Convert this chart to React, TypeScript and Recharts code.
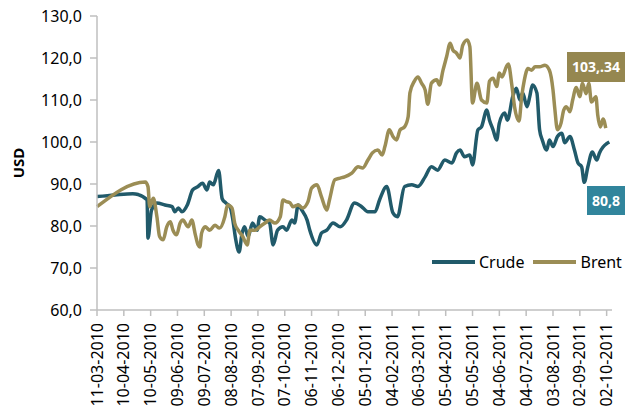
import { Line, LineChart, XAxis, YAxis } from 'recharts';

// days counted from 11-03-2010
const crudeDays = [0, 20, 40, 46, 56, 57, 61, 67, 76, 84, 87, 91, 95, 101, 107, 113, 118, 123, 126, 130, 136, 140, 144, 149, 152, 155, 159, 162, 165, 169, 174, 179, 182, 188, 193, 197, 202, 208, 212, 218, 221, 225, 229, 235, 238, 246, 251, 257, 264, 272, 279, 288, 296, 303, 311, 316, 324, 331, 336, 344, 352, 359, 367, 374, 381, 389, 397, 402, 406, 411, 417, 420, 426, 430, 436, 439, 443, 447, 450, 456, 459, 465, 469, 473, 476, 481, 484, 487, 492, 495, 498, 503, 506, 510, 515, 520, 523, 529, 534, 538, 542, 545, 549, 554, 559, 562, 566, 570, 573];
const crudeUsd = [87.0, 87.4, 87.7, 87.5, 86.2, 77.1, 83.8, 85.5, 85.0, 84.6, 83.4, 84.3, 83.4, 85.0, 88.6, 89.4, 90.2, 88.6, 90.5, 89.8, 93.2, 86.5, 85.5, 84.5, 81.4, 77.0, 73.8, 78.0, 79.8, 77.5, 80.7, 79.0, 82.2, 81.4, 80.7, 75.5, 79.0, 79.8, 79.0, 81.4, 80.7, 85.0, 83.8, 81.4, 79.0, 75.5, 78.3, 79.0, 80.7, 79.8, 81.4, 85.5, 84.6, 83.4, 83.4, 86.2, 89.4, 83.1, 82.2, 89.4, 89.8, 89.4, 91.7, 94.1, 93.3, 95.7, 95.0, 97.4, 98.1, 96.5, 96.9, 94.5, 102.9, 103.6, 107.6, 105.2, 102.9, 100.5, 104.5, 106.9, 105.2, 110.8, 112.8, 110.0, 111.7, 108.4, 110.8, 113.6, 111.7, 102.9, 100.5, 98.1, 100.5, 98.9, 101.3, 102.1, 99.8, 101.3, 98.1, 95.0, 94.1, 90.4, 94.1, 97.6, 95.7, 97.4, 98.8, 99.6, 100.0];

const brentDays = [0, 54, 57, 59, 63, 67, 70, 74, 78, 82, 85, 89, 93, 96, 102, 106, 110, 113, 115, 117, 121, 126, 132, 137, 143, 146, 151, 154, 158, 163, 168, 171, 177, 182, 188, 193, 199, 205, 208, 212, 216, 219, 225, 230, 236, 240, 246, 251, 257, 260, 266, 272, 277, 285, 292, 297, 303, 308, 314, 319, 322, 327, 331, 335, 339, 344, 348, 350, 355, 359, 363, 367, 370, 374, 380, 383, 387, 391, 395, 398, 402, 406, 409, 414, 417, 420, 425, 430, 436, 439, 443, 447, 450, 453, 458, 460, 464, 467, 472, 475, 478, 482, 486, 490, 495, 501, 506, 510, 512, 515, 519, 522, 525, 529, 532, 536, 540, 543, 547, 550, 553, 558, 560, 563, 566, 569];
const brentUsd = [84.6, 90.5, 89.4, 84.6, 86.6, 82.2, 77.5, 76.7, 79.8, 81.0, 79.0, 77.9, 80.7, 81.4, 79.8, 81.4, 77.9, 75.5, 75.0, 78.3, 79.8, 79.0, 80.2, 79.5, 82.2, 85.0, 84.3, 80.7, 79.0, 77.5, 75.5, 79.0, 79.0, 79.8, 80.7, 81.4, 80.7, 82.2, 86.2, 85.8, 85.5, 84.6, 85.0, 84.3, 85.8, 89.0, 89.8, 87.0, 83.8, 86.2, 91.0, 91.4, 91.7, 92.6, 94.1, 93.8, 95.7, 97.4, 98.1, 96.9, 98.9, 102.9, 101.3, 100.5, 102.9, 103.6, 106.0, 111.7, 114.5, 115.5, 114.0, 112.4, 109.0, 114.0, 114.8, 113.6, 117.1, 120.3, 123.5, 121.9, 121.2, 120.0, 123.0, 124.3, 122.7, 109.3, 114.0, 110.0, 109.3, 114.5, 115.2, 113.2, 116.4, 115.5, 118.0, 118.6, 113.5, 108.4, 105.0, 110.8, 114.8, 117.5, 117.1, 117.9, 117.9, 118.3, 117.1, 112.4, 108.0, 102.9, 104.5, 107.6, 108.4, 107.2, 110.0, 113.0, 110.8, 114.0, 111.5, 114.0, 109.5, 110.8, 106.5, 103.6, 105.5, 103.3];

const tickDays = [0, 30, 60, 90, 120, 150, 180, 210, 240, 270, 300, 330, 360, 390, 420, 450, 480, 510, 540, 570];
const tickLabels = ['11-03-2010', '10-04-2010', '10-05-2010', '09-06-2010', '09-07-2010', '08-08-2010', '07-09-2010', '07-10-2010', '06-11-2010', '06-12-2010', '05-01-2011', '04-02-2011', '06-03-2011', '05-04-2011', '05-05-2011', '04-06-2011', '04-07-2011', '03-08-2011', '02-09-2011', '02-10-2011'];
const yTicks = [60, 70, 80, 90, 100, 110, 120, 130];

const CRUDE = '#215a6a';
const BRENT = '#9b8d55';
const FONT = '"Noto Sans", sans-serif';

const crudeData = crudeDays.map((day, i) => ({ day, usd: crudeUsd[i] }));
const brentData = brentDays.map((day, i) => ({ day, usd: brentUsd[i] }));

const DateTick = (props: any) => {
  const { x, y, payload } = props;
  const idx = tickDays.indexOf(payload.value);
  return (
    <text
      x={x}
      y={y}
      transform={`rotate(-90, ${x}, ${y})`}
      textAnchor="end"
      dx={-5}
      dy="0.35em"
      fontSize={16}
      fontFamily={FONT}
      fill="#000"
    >
      {tickLabels[idx]}
    </text>
  );
};

const UsdLabel = (props: any) => {
  const { x, y, height } = props.viewBox;
  const cy = y + height / 2;
  return (
    <text x={x + 24} y={cy} transform={`rotate(-90, ${x + 24}, ${cy})`} textAnchor="middle" fontSize={15} fontWeight={700} fontFamily={FONT} fill="#000">
      USD
    </text>
  );
};

export default function App() {
  return (
    <div style={{ position: 'absolute', left: 0, top: 0, width: 625, height: 412, overflow: 'hidden', background: '#fff', fontFamily: FONT }}>
      <LineChart width={625} height={412} margin={{ top: 16, right: 13, left: 0, bottom: 0 }}>
        <XAxis
          type="number"
          dataKey="day"
          domain={[0, 576]}
          ticks={tickDays}
          interval={0}
          height={102}
          tickSize={6}
          tick={<DateTick />}
          axisLine={{ stroke: '#bfbfbf', strokeWidth: 1.5 }}
          tickLine={{ stroke: '#bfbfbf', strokeWidth: 1.5 }}
        />
        <YAxis
          type="number"
          domain={[60, 130]}
          ticks={yTicks}
          interval={0}
          width={97}
          tickSize={7}
          tickMargin={8}
          tickFormatter={(v: number) => v.toFixed(1).replace('.', ',')}
          tick={{ fontSize: 16, fill: '#000', fontFamily: FONT }}
          axisLine={{ stroke: '#bfbfbf', strokeWidth: 1.5 }}
          tickLine={{ stroke: '#bfbfbf', strokeWidth: 1.5 }}
          label={{ content: UsdLabel }}
        />
        <Line data={crudeData} dataKey="usd" name="Crude" type="monotone" stroke={CRUDE} strokeWidth={3.5} dot={false} isAnimationActive={false} />
        <Line data={brentData} dataKey="usd" name="Brent" type="monotone" stroke={BRENT} strokeWidth={3.5} dot={false} isAnimationActive={false} />
      </LineChart>

      <div style={{ position: 'absolute', left: 432, top: 251, display: 'flex', alignItems: 'center', fontSize: 16, color: '#000', lineHeight: '22px' }}>
        <span style={{ display: 'inline-block', width: 43, height: 4, background: CRUDE, marginRight: 4 }} />
        <span style={{ marginRight: 9 }}>Crude</span>
        <span style={{ display: 'inline-block', width: 43, height: 4, background: BRENT, marginRight: 4 }} />
        <span>Brent</span>
      </div>

      <div style={{ position: 'absolute', left: 567, top: 52, width: 58, height: 30, background: '#958750', color: '#fff', fontWeight: 700, fontSize: 14, lineHeight: '30px', paddingLeft: 5, boxSizing: 'border-box', whiteSpace: 'nowrap' }}>
        103,.34
      </div>
      <div style={{ position: 'absolute', left: 587, top: 186, width: 38, height: 29, background: '#31859c', color: '#fff', fontWeight: 700, fontSize: 14, lineHeight: '29px', paddingLeft: 5, boxSizing: 'border-box', whiteSpace: 'nowrap' }}>
        80,8
      </div>
    </div>
  );
}
